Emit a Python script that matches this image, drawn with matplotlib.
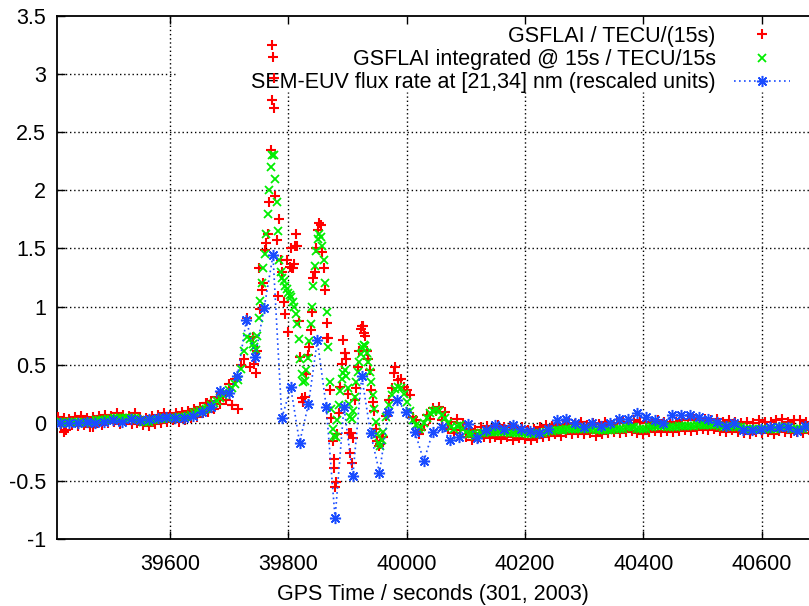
import numpy as np
import matplotlib
matplotlib.use('Agg')
import matplotlib.pyplot as plt

plt.rcParams['font.family'] = ['Liberation Sans', 'DejaVu Sans']
FS = 15.5

# time grid for the GSFLAI samples (denser during the flare)
gsf_t = np.concatenate([np.arange(39410, 39740, 5),
                        np.arange(39740, 39960, 2.5),
                        np.arange(39960, 40681, 5)])

# GSFLAI integrated @ 15s / TECU/15s
gsf_int = [
    # 39410 - 39735, 5 s
    0.01, 0.01, 0.01, 0.00, 0.00, 0.01, 0.01, 0.01, 0.01, 0.00,
    0.00, 0.01, 0.01, 0.02, 0.02, 0.02, 0.02, 0.03, 0.03, 0.04,
    0.04, 0.04, 0.04, 0.04, 0.04, 0.04, 0.04, 0.03, 0.02, 0.01,
    0.01, 0.01, 0.02, 0.02, 0.03, 0.03, 0.04, 0.04, 0.04, 0.04,
    0.04, 0.05, 0.05, 0.05, 0.06, 0.07, 0.08, 0.09, 0.10, 0.11,
    0.12, 0.13, 0.15, 0.17, 0.19, 0.21, 0.24, 0.26, 0.28, 0.30,
    0.33, 0.37, 0.46, 0.62, 0.74, 0.72,
    # 39740 - 39957.5, 2.5 s
    0.68, 0.65, 0.63, 0.75, 0.90, 1.05, 1.20, 1.33, 1.45, 1.62,
    1.80, 2.00, 2.20, 2.30, 2.30, 2.10, 1.90, 1.65, 1.40, 1.30,
    1.25, 1.22, 1.18, 1.15, 1.12, 1.10, 1.08, 1.04, 1.00, 0.94,
    0.85, 0.72, 0.55, 0.42, 0.35, 0.36, 0.45, 0.56, 0.70, 0.85,
    1.00, 1.18, 1.35, 1.48, 1.58, 1.62, 1.60, 1.52, 1.40, 1.20,
    0.95, 0.65, 0.35, 0.12, -0.05, -0.11, -0.12, 0.02, 0.15, 0.27,
    0.38, 0.43, 0.45, 0.40, 0.30, 0.16, 0.05, 0.03, 0.10, 0.22,
    0.35, 0.44, 0.52, 0.59, 0.65, 0.67, 0.66, 0.60, 0.52, 0.44,
    0.35, 0.24, 0.12, 0.01, -0.10, -0.17, -0.20, -0.15,
    # 39960 - 40680, 5 s
    -0.08, 0.05, 0.15, 0.24, 0.29, 0.31, 0.30, 0.25, 0.18, 0.10,
    0.02, -0.02, -0.05, -0.04, 0.00, 0.04, 0.08, 0.10, 0.11, 0.10,
    0.07, 0.04, 0.00, -0.04, -0.05, -0.03, -0.02, -0.05, -0.08, -0.10,
    -0.10, -0.11, -0.10, -0.09, -0.09, -0.08, -0.08, -0.08, -0.08, -0.08,
    -0.08, -0.08, -0.08, -0.09, -0.09, -0.09, -0.09, -0.09, -0.09, -0.10,
    -0.10, -0.10, -0.09, -0.09, -0.09, -0.08, -0.07, -0.07, -0.06, -0.06,
    -0.06, -0.06, -0.05, -0.05, -0.05, -0.05, -0.05, -0.05, -0.05, -0.05,
    -0.05, -0.05, -0.06, -0.06, -0.06, -0.06, -0.06, -0.06, -0.05, -0.05,
    -0.05, -0.05, -0.04, -0.04, -0.04, -0.04, -0.05, -0.05, -0.05, -0.05,
    -0.04, -0.04, -0.03, -0.03, -0.03, -0.03, -0.04, -0.04, -0.04, -0.04,
    -0.03, -0.03, -0.03, -0.03, -0.03, -0.03, -0.02, -0.02, -0.02, -0.02,
    -0.02, -0.02, -0.02, -0.02, -0.03, -0.04, -0.04, -0.04, -0.03, -0.03,
    -0.04, -0.04, -0.05, -0.05, -0.05, -0.05, -0.05, -0.05, -0.05, -0.05,
    -0.05, -0.05, -0.05, -0.05, -0.04, -0.04, -0.04, -0.04, -0.05, -0.05,
    -0.05, -0.05, -0.05, -0.04, -0.04,
]

# GSFLAI / TECU/(15s)
gsf_raw = [
    # 39410 - 39735, 5 s
    0.05, -0.03, 0.04, -0.06, 0.03, -0.02, 0.05, -0.03, 0.06, -0.02,
    0.04, -0.04, 0.05, 0.00, 0.06, -0.02, 0.07, 0.00, 0.06, 0.01,
    0.08, -0.01, 0.07, 0.02, 0.06, -0.01, 0.08, 0.00, 0.05, -0.02,
    0.04, -0.03, 0.06, -0.01, 0.07, 0.00, 0.08, 0.01, 0.07, 0.02,
    0.08, 0.01, 0.09, 0.02, 0.10, 0.04, 0.12, 0.05, 0.14, 0.08,
    0.17, 0.09, 0.19, 0.12, 0.22, 0.16, 0.24, 0.20, 0.33, 0.15,
    0.38, 0.12, 0.50, 0.55, 0.90, 0.48,
    # 39740 - 39957.5, 2.5 s
    0.74, 0.51, 0.43, 0.62, 1.33, 0.98, 1.14, 1.20, 1.49, 1.55,
    1.62, 1.90, 2.35, 3.25, 2.97, 1.95, 1.57, 1.09, 1.75, 1.40,
    1.30, 1.04, 0.94, 1.40, 0.78, 1.34, 1.50, 1.33, 1.37, 1.62,
    1.52, 0.88, 0.57, 0.21, 0.18, 0.22, 0.42, 0.58, 0.65, 0.80,
    0.95, 1.25, 1.30, 1.50, 1.66, 1.72, 1.70, 1.47, 1.33, 1.14,
    0.86, 0.73, 0.28, 0.04, -0.16, -0.31, -0.51, -0.10, 0.08, 0.31,
    0.51, 0.71, 0.60, 0.55, 0.25, -0.09, -0.26, -0.35, -0.13, 0.20,
    0.30, 0.48, 0.62, 0.81, 0.83, 0.77, 0.75, 0.62, 0.55, 0.45,
    0.28, 0.18, 0.10, -0.05, -0.16, -0.20, -0.18, -0.12,
    # 39960 - 40680, 5 s
    -0.12, 0.06, 0.20, 0.30, 0.48, 0.37, 0.38, 0.31, 0.28, 0.24,
    0.05, 0.02, -0.10, -0.06, -0.02, 0.07, 0.03, 0.13, 0.10, 0.14,
    0.02, 0.09, -0.05, 0.01, -0.09, 0.03, -0.06, 0.00, -0.12, -0.05,
    -0.15, -0.06, -0.13, -0.04, -0.12, -0.03, -0.13, -0.05, -0.12, -0.02,
    -0.14, -0.04, -0.12, -0.03, -0.15, -0.05, -0.13, -0.04, -0.14, -0.06,
    -0.15, -0.05, -0.13, -0.04, -0.12, -0.02, -0.11, -0.03, -0.10, -0.01,
    -0.11, -0.02, -0.09, 0.00, -0.10, -0.01, -0.09, 0.01, -0.10, -0.02,
    -0.09, 0.00, -0.11, -0.01, -0.10, 0.01, -0.09, -0.02, -0.08, 0.00,
    -0.09, 0.01, -0.08, 0.00, -0.07, 0.02, -0.09, 0.01, -0.10, 0.00,
    -0.08, 0.01, -0.07, 0.02, -0.08, 0.01, -0.07, 0.00, -0.08, 0.01,
    -0.07, 0.02, -0.06, 0.02, -0.07, 0.03, -0.06, 0.02, -0.05, 0.03,
    -0.06, 0.02, -0.05, 0.03, -0.07, 0.01, -0.08, 0.02, -0.06, 0.01,
    -0.08, 0.00, -0.09, 0.01, -0.10, 0.00, -0.08, 0.02, -0.09, 0.01,
    -0.08, 0.01, -0.10, 0.02, -0.07, 0.03, -0.08, 0.01, -0.09, 0.02,
    -0.08, 0.02, -0.09, 0.01, -0.06,
]

# extra scattered raw samples
raw_extra_t = [39420, 39470, 39662, 39704, 39774, 39773, 39776, 39812, 39806,
               39824, 39866, 39877, 39879, 39896, 39906, 39927, 39985, 39978]
raw_extra_v = [-0.08, -0.04, 0.17, 0.15, 3.15, 2.78, 2.71, 1.52, 1.33,
               0.18, 0.73, -0.39, -0.55, 0.60, -0.09, 0.83, 0.37, 0.43]

# SEM-EUV flux rate, 15 s cadence
euv_t = np.arange(39414, 40680, 15)
euv = [
    0.0, 0.0, 0.0, 0.01, 0.0, 0.01, 0.02, 0.01, 0.03, 0.02, 0.03, 0.04,
    0.05, 0.04, 0.04, 0.06, 0.09, 0.14, 0.27, 0.26, 0.40, 0.885, 0.57, 0.985,
    1.44, 0.04, 0.305, -0.17, 0.16, 0.71, 0.14, -0.82, 0.14, -0.46, 0.40, -0.09,
    -0.43, 0.09, 0.20, 0.09, -0.08, -0.33, -0.08, -0.04, -0.15, -0.12, -0.01, -0.13,
    -0.06, -0.02, -0.05, -0.02, -0.05, -0.07, -0.09, -0.05, 0.02, 0.03, 0.0, -0.04,
    0.0, -0.03, 0.0, 0.03, 0.03, 0.08, 0.05, 0.02, 0.0, 0.07, 0.07, 0.07,
    0.05, 0.03, 0.01, -0.03, 0.0, -0.06, -0.06, -0.05, -0.04, -0.04, -0.04, -0.07,
    -0.03,
]

xticks = np.arange(39600, 40601, 200)
yticks = np.arange(-1, 3.51, 0.5)

fig = plt.figure(figsize=(8.09, 6.06), dpi=100)
ax = fig.add_axes([57 / 809, 1 - 539 / 606, 1 - 57 / 809, (539 - 16) / 606])

ax.plot(gsf_t, gsf_raw, linestyle='none', marker='+', color='red',
        markersize=7, markeredgewidth=1.5, label='GSFLAI / TECU/(15s)', zorder=3)
ax.plot(raw_extra_t, raw_extra_v, linestyle='none', marker='+', color='red',
        markersize=7, markeredgewidth=1.5, zorder=3)
ax.plot(gsf_t, gsf_int, linestyle='none', marker='x', color='#00ee00',
        markersize=6, markeredgewidth=1.3,
        label='GSFLAI integrated @ 15s / TECU/15s', zorder=4)
ax.plot(euv_t, euv, linestyle=(0, (1, 2)), linewidth=1.2, color='#1a4cff',
        marker=(8, 2, 0), markersize=8, markeredgewidth=1.1,
        label='SEM-EUV flux rate at [21,34] nm (rescaled units)', zorder=5)

ax.set_xlim(39409, 40680)
ax.set_ylim(-1, 3.5)
ax.set_xticks(xticks)
ax.set_yticks(yticks)
ax.set_yticklabels(['%g' % v for v in yticks])
ax.tick_params(direction='in', length=6, width=1, top=True, labelsize=FS)
ax.tick_params(axis='y', pad=8)
ax.tick_params(axis='x', pad=11)
ax.spines['right'].set_visible(False)
for s in ['left', 'bottom', 'top']:
    ax.spines[s].set_linewidth(1.3)

# grid, kept out of the key area (gnuplot style)
key_left = (175 - 57) / 752
key_bottom = (539 - 92) / 523
grid_kw = dict(color='black', linestyle=(0, (1, 2)), linewidth=1, zorder=1)
for x in xticks:
    top = 1 if ax.transData.transform((x, 0))[0] < 230 else key_bottom
    ax.axvline(x, 0, top, **grid_kw)
for y in yticks[1:-1]:
    right = key_left if y > 2.7 else 1
    ax.axhline(y, 0, right, **grid_kw)

ax.set_xlabel('GPS Time / seconds (301, 2003)', fontsize=FS, labelpad=6.5)

leg = ax.legend(loc='upper right', bbox_to_anchor=(790 / 809, 1 - 26 / 606),
                bbox_transform=fig.transFigure, frameon=False, markerfirst=False,
                fontsize=FS, handlelength=2.6, handletextpad=0.85,
                labelspacing=0.1, borderpad=0, borderaxespad=0)
leg.set_zorder(2)

fig.savefig('out.png', dpi=100)
